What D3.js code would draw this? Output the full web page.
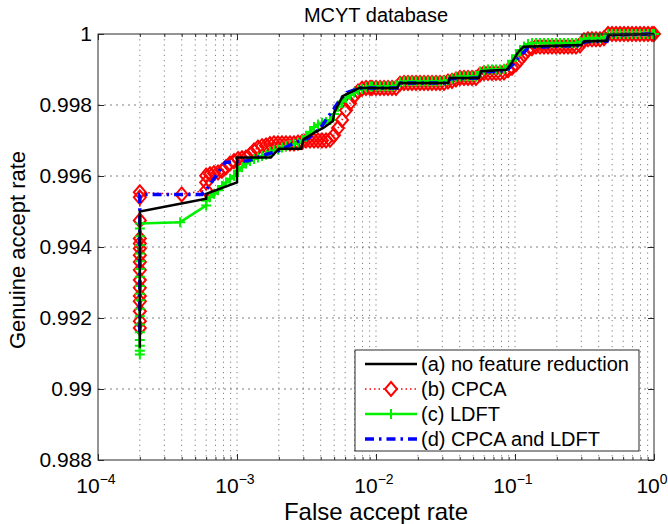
<!DOCTYPE html>
<meta charset="utf-8" />
<script src="https://d3js.org/d3.v7.min.js"></script>
<style>
  body { margin: 0; background: #fff; }
  text { font-family: "Liberation Sans", Arial, sans-serif; fill: #000; }
</style>
<div id="chart"></div>
<script>
  // ---- data: [false accept rate, genuine accept rate] ----
  const seriesNames = [
    "(a) no feature reduction",
    "(b) CPCA",
    "(c) LDFT",
    "(d) CPCA and LDFT"
  ];

  const curveA = [
    [2e-4, 0.99116], [2e-4, 0.995], [6e-4, 0.99536], [6e-4, 0.9955],
    [1e-3, 0.99582], [1e-3, 0.99652], [1.75e-3, 0.99652], [2.0e-3, 0.99677],
    [2.9e-3, 0.99677], [3.0e-3, 0.99703], [3.6e-3, 0.99722], [4.2e-3, 0.99736],
    [4.9e-3, 0.99755], [5.0e-3, 0.99778], [5.75e-3, 0.99825], [7.6e-3, 0.99848],
    [0.0142, 0.99848], [0.0148, 0.99862], [0.033, 0.99862], [0.034, 0.99876],
    [0.055, 0.99876], [0.057, 0.99895], [0.087, 0.99899], [0.095, 0.9992],
    [0.105, 0.99948], [0.115, 0.99964], [0.3, 0.99969], [0.315, 0.99979],
    [0.46, 0.99981], [0.47, 0.99997], [1, 1.0]
  ];

  const curveB = [
    [2e-4, 0.99172], [2e-4, 0.99191], [2e-4, 0.99219], [2e-4, 0.99247],
    [2e-4, 0.99262], [2e-4, 0.99285], [2e-4, 0.99307], [2e-4, 0.99335],
    [2e-4, 0.99358], [2e-4, 0.99377], [2e-4, 0.99396], [2e-4, 0.9941],
    [2e-4, 0.99424], [2e-4, 0.99475], [2e-4, 0.9954], [2e-4, 0.99554],
    [4e-4, 0.99548], [6e-4, 0.9956], [6e-4, 0.99582], [6e-4, 0.99601],
    [6.39e-4, 0.99605], [6.83e-4, 0.99608], [7.3e-4, 0.9961], [7.8e-4, 0.99615],
    [8.34e-4, 0.99625], [8.9e-4, 0.99635], [9.52e-4, 0.99642], [1.017e-3, 0.99648],
    [1.086e-3, 0.9965], [1.161e-3, 0.99652], [1.24e-3, 0.9966], [1.325e-3, 0.99672],
    [1.416e-3, 0.9968], [1.513e-3, 0.99684], [1.617e-3, 0.99686], [1.728e-3, 0.9969],
    [1.846e-3, 0.99692], [1.972e-3, 0.99692], [2.107e-3, 0.99692], [2.252e-3, 0.99692],
    [2.406e-3, 0.99692], [2.571e-3, 0.99692], [2.747e-3, 0.99694], [2.935e-3, 0.99696],
    [3.136e-3, 0.997], [3.351e-3, 0.997], [3.581e-3, 0.997], [3.826e-3, 0.997],
    [4.088e-3, 0.997], [4.368e-3, 0.997], [4.668e-3, 0.99702], [4.987e-3, 0.99715],
    [5.329e-3, 0.99735], [5.694e-3, 0.99758], [6.084e-3, 0.99785], [6.5e-3, 0.99805],
    [6.946e-3, 0.99825], [7.422e-3, 0.99838], [7.93e-3, 0.99846], [8.474e-3, 0.99848],
    [9.054e-3, 0.99848], [0.00936, 0.99848], [0.01, 0.99848], [0.01069, 0.99848],
    [0.01142, 0.99848], [0.0122, 0.99848], [0.01304, 0.99848], [0.01393, 0.99848],
    [0.01488, 0.9986], [0.0159, 0.99862], [0.01699, 0.99862], [0.01816, 0.99862],
    [0.0194, 0.99862], [0.02073, 0.99862], [0.02215, 0.99862], [0.02366, 0.99862],
    [0.02528, 0.99862], [0.02702, 0.99862], [0.02886, 0.99862], [0.03084, 0.99862],
    [0.03296, 0.99866], [0.03522, 0.99868], [0.03762, 0.99872], [0.0402, 0.99876],
    [0.04296, 0.99876], [0.0459, 0.99876], [0.04904, 0.99876], [0.0524, 0.99876],
    [0.056, 0.99886], [0.05984, 0.9989], [0.06395, 0.9989], [0.06832, 0.9989],
    [0.073, 0.9989], [0.078, 0.9989], [0.08335, 0.99892], [0.08905, 0.99898],
    [0.09515, 0.99905], [0.1017, 0.99915], [0.1086, 0.99928], [0.1161, 0.99942],
    [0.124, 0.99955], [0.1325, 0.9996], [0.1416, 0.99965], [0.1513, 0.99965],
    [0.1617, 0.99965], [0.1728, 0.99965], [0.1846, 0.99965], [0.1972, 0.99965],
    [0.2107, 0.99965], [0.2252, 0.99965], [0.2406, 0.99965], [0.2571, 0.99965],
    [0.2747, 0.99965], [0.2935, 0.99968], [0.3136, 0.99982], [0.3351, 0.99985],
    [0.3581, 0.99985], [0.3826, 0.99985], [0.4088, 0.99985], [0.4368, 0.99988],
    [0.4668, 1.0], [0.4987, 1.0], [0.5329, 1.0], [0.5694, 1.0], [0.6084, 1.0],
    [0.65, 1.0], [0.6946, 1.0], [0.7422, 1.0], [0.793, 1.0], [0.8474, 1.0],
    [0.9054, 1.0], [0.9674, 1.0], [1, 1.0]
  ];

  const curveC = [
    [2e-4, 0.99097], [2e-4, 0.99108], [2e-4, 0.99122], [2e-4, 0.99138],
    [2e-4, 0.9916], [2e-4, 0.99182], [2e-4, 0.99205], [2e-4, 0.99226],
    [2e-4, 0.9925], [2e-4, 0.99268], [2e-4, 0.9929], [2e-4, 0.99316],
    [2e-4, 0.99338], [2e-4, 0.9936], [2e-4, 0.99382], [2e-4, 0.99405],
    [2e-4, 0.9943], [2e-4, 0.99452], [2e-4, 0.99466], [3.9e-4, 0.9947],
    [6e-4, 0.99517], [6e-4, 0.9953], [6.39e-4, 0.9954], [6.83e-4, 0.9955],
    [7.3e-4, 0.9956], [7.8e-4, 0.99572], [8.34e-4, 0.99582], [8.9e-4, 0.99592],
    [9.52e-4, 0.996], [1.017e-3, 0.99615], [1.086e-3, 0.99625], [1.161e-3, 0.99635],
    [1.24e-3, 0.99642], [1.325e-3, 0.99648], [1.416e-3, 0.99652], [1.513e-3, 0.99656],
    [1.617e-3, 0.9966], [1.728e-3, 0.99668], [1.846e-3, 0.99672], [1.972e-3, 0.99675],
    [2.107e-3, 0.9968], [2.252e-3, 0.99684], [2.406e-3, 0.99687], [2.571e-3, 0.9969],
    [2.747e-3, 0.99694], [2.935e-3, 0.997], [3.136e-3, 0.99712], [3.351e-3, 0.99725],
    [3.581e-3, 0.99738], [3.826e-3, 0.99745], [4.088e-3, 0.9975], [4.368e-3, 0.99752],
    [4.668e-3, 0.99758], [4.987e-3, 0.99775], [5.329e-3, 0.99795], [5.694e-3, 0.9981],
    [6.084e-3, 0.9982], [6.5e-3, 0.99828], [6.946e-3, 0.99835], [7.422e-3, 0.99842],
    [7.93e-3, 0.99845], [8.474e-3, 0.9985], [9.054e-3, 0.99852], [0.00936, 0.99852],
    [0.01, 0.99852], [0.01069, 0.99852], [0.01142, 0.99852], [0.0122, 0.99852],
    [0.01304, 0.99852], [0.01393, 0.99855], [0.01488, 0.99864], [0.0159, 0.99866],
    [0.01699, 0.99866], [0.01816, 0.99866], [0.0194, 0.99866], [0.02073, 0.99866],
    [0.02215, 0.99866], [0.02366, 0.99866], [0.02528, 0.99866], [0.02702, 0.99866],
    [0.02886, 0.99866], [0.03084, 0.99868], [0.03296, 0.9987], [0.03522, 0.99874],
    [0.03762, 0.99878], [0.0402, 0.9988], [0.04296, 0.9988], [0.0459, 0.9988],
    [0.04904, 0.9988], [0.0524, 0.9988], [0.056, 0.99893], [0.05984, 0.99898],
    [0.06395, 0.999], [0.06832, 0.999], [0.073, 0.999], [0.078, 0.999],
    [0.08335, 0.99902], [0.08905, 0.9991], [0.09515, 0.99925], [0.1017, 0.9994],
    [0.1086, 0.99955], [0.1161, 0.99965], [0.124, 0.99972], [0.1325, 0.99975],
    [0.1416, 0.99975], [0.1513, 0.99975], [0.1617, 0.99975], [0.1728, 0.99975],
    [0.1846, 0.99975], [0.1972, 0.99975], [0.2107, 0.99975], [0.2252, 0.99975],
    [0.2406, 0.99975], [0.2571, 0.99975], [0.2747, 0.99975], [0.2935, 0.99978],
    [0.3136, 0.99986], [0.3351, 0.99988], [0.3581, 0.99988], [0.3826, 0.99988],
    [0.4088, 0.99988], [0.4368, 0.9999], [0.4668, 1.0], [0.4987, 1.0], [0.5329, 1.0],
    [0.5694, 1.0], [0.6084, 1.0], [0.65, 1.0], [0.6946, 1.0], [0.7422, 1.0],
    [0.793, 1.0], [0.8474, 1.0], [0.9054, 1.0], [0.9674, 1.0], [1, 1.0]
  ];

  const curveD = [
    [2e-4, 0.9916], [2e-4, 0.99548], [5.6e-4, 0.99548], [6e-4, 0.9956],
    [8.2e-4, 0.99638], [1.2e-3, 0.99643], [1.6e-3, 0.9966], [2.0e-3, 0.99671],
    [2.6e-3, 0.99694], [3.3e-3, 0.99708], [4.0e-3, 0.99736], [4.4e-3, 0.9976],
    [5.0e-3, 0.9979], [5.5e-3, 0.99815], [6.2e-3, 0.99835], [7.6e-3, 0.99848],
    [0.0142, 0.99848], [0.0148, 0.99862], [0.033, 0.99862], [0.034, 0.99874],
    [0.055, 0.99876], [0.057, 0.99893], [0.087, 0.99897], [0.097, 0.99915],
    [0.11, 0.9994], [0.125, 0.99962], [0.3, 0.99968], [0.315, 0.99978],
    [0.46, 0.9998], [0.47, 0.99997], [1, 1.0]
  ];

  const xMajorTicks = [1e-4, 1e-3, 1e-2, 1e-1, 1];
  const xTickExp = ["-4", "-3", "-2", "-1", "0"];
  const yTicks = [0.988, 0.99, 0.992, 0.994, 0.996, 0.998, 1];

  // ---- layout ----
  const W = 668, H = 524;
  const pLeft = 98, pRight = 654, pTop = 34, pBottom = 460;

  const svg = d3.select("#chart").append("svg")
    .attr("width", W).attr("height", H);

  const x = d3.scaleLog().domain([1e-4, 1]).range([pLeft, pRight]);
  const y = d3.scaleLinear().domain([0.988, 1]).range([pBottom, pTop]);

  const xAllTicks = x.ticks(); // 1,2..9 per decade
  const xMinorTicks = xAllTicks.filter(t => !xMajorTicks.some(m => Math.abs(m - t) / m < 1e-9));

  // grid
  const grid = svg.append("g").attr("stroke", "#707070").attr("stroke-width", 0.9)
    .attr("stroke-dasharray", "1.2,4");
  grid.selectAll(".gx").data(xAllTicks.filter(t => t > 1.01e-4 && t < 0.99)).join("line")
    .attr("x1", d => x(d)).attr("x2", d => x(d))
    .attr("y1", pTop).attr("y2", pBottom);
  grid.selectAll(".gy").data(yTicks.filter(t => t > 0.988 && t < 1)).join("line")
    .attr("x1", pLeft).attr("x2", pRight)
    .attr("y1", d => y(d)).attr("y2", d => y(d))
    .attr("stroke-dasharray", "2,4");

  // curves
  const line = d3.line().x(d => x(d[0])).y(d => y(d[1]));
  const plot = svg.append("g");

  // (b) CPCA - red dotted with diamonds
  plot.append("path").datum(curveB).attr("d", line)
    .attr("fill", "none").attr("stroke", "#ff0000").attr("stroke-width", 1.5)
    .attr("stroke-dasharray", "1.5,3");
  const diamond = "M0,-7L6,0L0,7L-6,0Z";
  plot.append("g").selectAll("path").data(curveB).join("path")
    .attr("d", diamond)
    .attr("transform", d => `translate(${x(d[0])},${y(d[1])})`)
    .attr("fill", "none").attr("stroke", "#ff0000").attr("stroke-width", 2);

  // (c) LDFT - green solid with plus
  plot.append("path").datum(curveC).attr("d", line)
    .attr("fill", "none").attr("stroke", "#00f000").attr("stroke-width", 2.5);
  const plus = "M-5,0H5M0,-5V5";
  plot.append("g").selectAll("path").data(curveC).join("path")
    .attr("d", plus)
    .attr("transform", d => `translate(${x(d[0])},${y(d[1])})`)
    .attr("fill", "none").attr("stroke", "#00f000").attr("stroke-width", 2);

  // (d) CPCA and LDFT - blue dash-dot
  plot.append("path").datum(curveD).attr("d", line)
    .attr("fill", "none").attr("stroke", "#0000ff").attr("stroke-width", 3.5)
    .attr("stroke-dasharray", "9,5,2.5,5");

  // (a) no reduction - black solid
  plot.append("path").datum(curveA).attr("d", line)
    .attr("fill", "none").attr("stroke", "#000").attr("stroke-width", 2.5);

  // axes (ticks inward, on all four sides)
  const axisCol = "#2a2a2a";
  function styleAxis(g) {
    g.select(".domain").remove();
    g.selectAll("line").attr("stroke", axisCol);
  }
  svg.append("g").attr("transform", `translate(0,${pBottom})`)
    .call(d3.axisBottom(x).tickValues(xMajorTicks).tickSize(-6).tickFormat("")).call(styleAxis);
  svg.append("g").attr("transform", `translate(0,${pBottom})`)
    .call(d3.axisBottom(x).tickValues(xMinorTicks).tickSize(-3).tickFormat("")).call(styleAxis);
  svg.append("g").attr("transform", `translate(0,${pTop})`)
    .call(d3.axisTop(x).tickValues(xMajorTicks).tickSize(-6).tickFormat("")).call(styleAxis);
  svg.append("g").attr("transform", `translate(0,${pTop})`)
    .call(d3.axisTop(x).tickValues(xMinorTicks).tickSize(-3).tickFormat("")).call(styleAxis);

  const yAxis = svg.append("g").attr("transform", `translate(${pLeft},0)`)
    .call(d3.axisLeft(y).tickValues(yTicks).tickSize(-6).tickPadding(6)
      .tickFormat(d => String(d)))
    .call(styleAxis);
  yAxis.selectAll("text")
    .style("font-size", "21px").style("font-family", "Liberation Sans, Arial, sans-serif")
    .attr("fill", "#000");
  svg.append("g").attr("transform", `translate(${pRight},0)`)
    .call(d3.axisRight(y).tickValues(yTicks).tickSize(-6).tickFormat("")).call(styleAxis);

  svg.append("rect").attr("x", pLeft).attr("y", pTop)
    .attr("width", pRight - pLeft).attr("height", pBottom - pTop)
    .attr("fill", "none").attr("stroke", axisCol).attr("stroke-width", 1);

  // x tick labels with superscripts
  const xl = svg.append("g").selectAll("text").data(xMajorTicks).join("text")
    .attr("x", d => x(d) - 2).attr("y", 493)
    .attr("text-anchor", "middle").style("font-size", "21px");
  xl.append("tspan").text("10");
  xl.append("tspan").attr("dy", -9).style("font-size", "14px")
    .text((d, i) => xTickExp[i].replace("-", "\u2212"));

  // titles
  svg.append("text").attr("x", (pLeft + pRight) / 2).attr("y", 22)
    .attr("text-anchor", "middle").style("font-size", "20px").text("MCYT database");
  svg.append("text").attr("x", (pLeft + pRight) / 2).attr("y", 520)
    .attr("text-anchor", "middle").style("font-size", "24px").text("False accept rate");
  svg.append("text").attr("transform", "translate(25,250) rotate(-90)")
    .attr("text-anchor", "middle").style("font-size", "22px").text("Genuine accept rate");

  // legend
  const lg = svg.append("g");
  lg.append("rect").attr("x", 355).attr("y", 350).attr("width", 284).attr("height", 101)
    .attr("fill", "#fff").attr("stroke", axisCol).attr("stroke-width", 1);
  const legendY = [364, 389, 414, 439];
  const lx1 = 365, lx2 = 417, lxm = 391;
  // (a)
  lg.append("line").attr("x1", lx1).attr("x2", lx2).attr("y1", legendY[0]).attr("y2", legendY[0])
    .attr("stroke", "#000").attr("stroke-width", 2.5);
  // (b)
  lg.append("line").attr("x1", lx1).attr("x2", lx2).attr("y1", legendY[1]).attr("y2", legendY[1])
    .attr("stroke", "#ff0000").attr("stroke-width", 1.5).attr("stroke-dasharray", "1.5,3");
  lg.append("path").attr("d", diamond).attr("transform", `translate(${lxm},${legendY[1]})`)
    .attr("fill", "#fff").attr("stroke", "#ff0000").attr("stroke-width", 2);
  // (c)
  lg.append("line").attr("x1", lx1).attr("x2", lx2).attr("y1", legendY[2]).attr("y2", legendY[2])
    .attr("stroke", "#00f000").attr("stroke-width", 2.5);
  lg.append("path").attr("d", plus).attr("transform", `translate(${lxm},${legendY[2]})`)
    .attr("fill", "none").attr("stroke", "#00f000").attr("stroke-width", 2);
  // (d)
  lg.append("line").attr("x1", lx1).attr("x2", lx2).attr("y1", legendY[3]).attr("y2", legendY[3])
    .attr("stroke", "#0000ff").attr("stroke-width", 3.5).attr("stroke-dasharray", "9,5,2.5,5");
  lg.selectAll(".lt").data(seriesNames).join("text")
    .attr("x", 421).attr("y", (d, i) => legendY[i])
    .attr("dy", "0.36em").style("font-size", "20px").text(d => d);
</script>
